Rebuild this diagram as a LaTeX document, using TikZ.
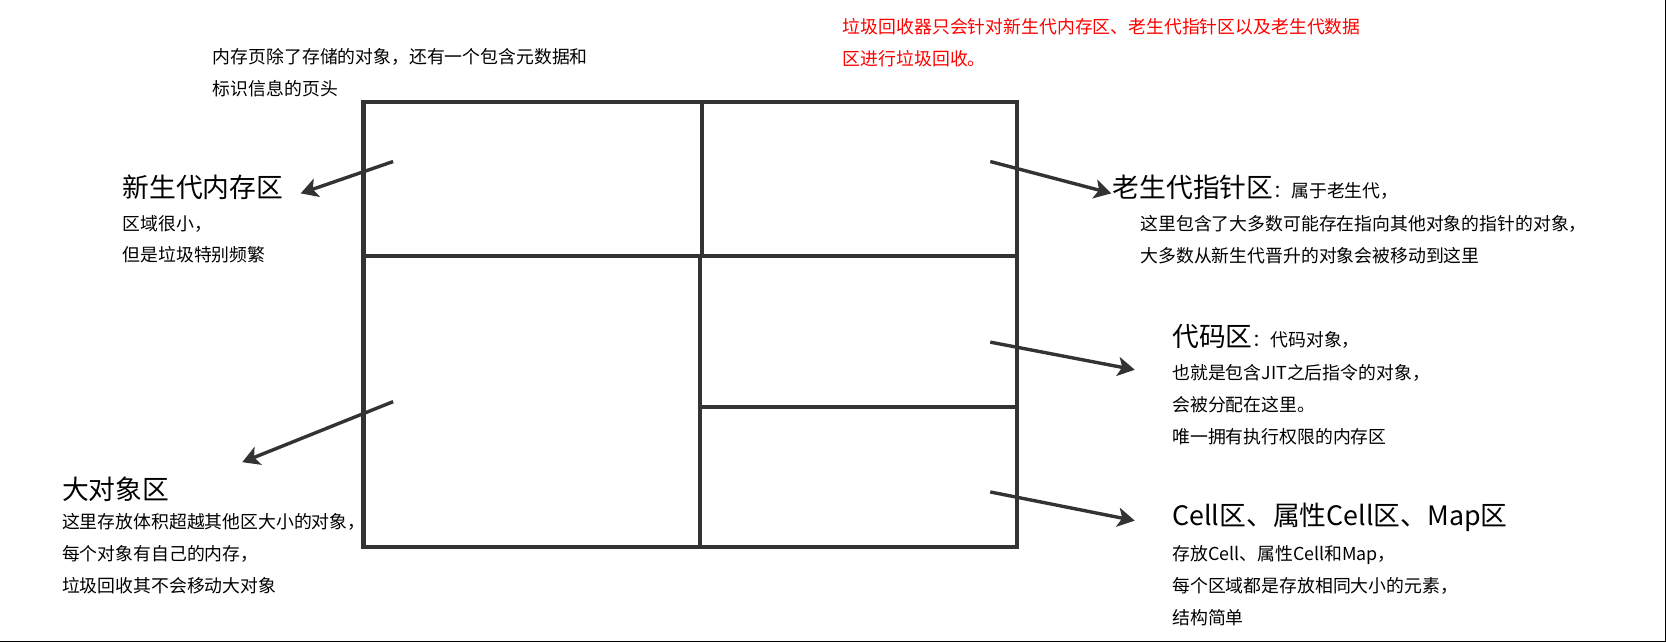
\documentclass[tikz,border=0pt]{standalone}
\usepackage{fontspec}
\setmainfont{Noto Sans CJK SC}
\usetikzlibrary{arrows.meta}

\begin{document}
\begin{tikzpicture}[ x = 0.5pt, y = -0.5pt
                     , >={Stealth[width=0.9em, length=0.8em, inset=0.2em]}
                     , wall/.style = { line width = 2pt, draw = black!80 }
                     , pointer/.style = { ->, line width = 1.6pt, draw = black!80 }
                     , title/.style = { anchor = west, inner sep = 0pt, font = \fontsize{12.6}{14}\selectfont }
                     , note/.style = { anchor = north west, inner sep = 0pt, align = left
                                     , font = \fontsize{8.4}{15}\selectfont }
                     ]

  \useasboundingbox (0,0) rectangle (1568,606);
  \draw (0,603.5) -- (1567,603.5) -- (1567,0);

  % memory page
  \draw[wall] (342,96) rectangle (957,515);
  \draw[wall] (661,96) -- (661,241);
  \draw[wall] (659,241) -- (659,515);
  \draw[wall] (342,241) -- (957,241);
  \draw[wall] (659,383) -- (957,383);

  % top notes
  \node (header) [note] at (200,45) {内存页除了存储的对象，还有一个包含元数据和\\标识信息的页头};
  \node (gc) [note, text = red] at (793,17) {垃圾回收器只会针对新生代内存区、老生代指针区以及老生代数据\\区进行垃圾回收。};

  % left side
  \node (young) [title] at (115,176) {新生代内存区};
  \node (youngtxt) [note] at (115,202) {区域很小，\\但是垃圾特别频繁};
  \node (large) [title] at (58,460) {大对象区};
  \node (largetxt) [note] at (58,483) {这里存放体积超越其他区大小的对象，\\每个对象有自己的内存，\\垃圾回收其不会移动大对象};

  % right side
  \node (old) [title] at (1047,176) {老生代指针区\fontsize{8.4}{14}\selectfont ：属于老生代，};
  \node (oldtxt) [note] at (1073,202) {这里包含了大多数可能存在指向其他对象的指针的对象，\\大多数从新生代晋升的对象会被移动到这里};
  \node (code) [title] at (1103,317) {代码区\fontsize{8.4}{14}\selectfont ：代码对象，};
  \node (codetxt) [note] at (1103,343) {也就是包含JIT之后指令的对象，\\会被分配在这里。\\唯一拥有执行权限的内存区};
  \node (cell) [title] at (1103,487) {Cell区、属性Cell区、Map区};
  \node (celltxt) [note] at (1103,513) {存放Cell、属性Cell和Map，\\每个区域都是存放相同大小的元素，\\结构简单};

  \coordinate (a1) at (370,152);
  \coordinate (a2) at (370,378);
  \coordinate (a3) at (932,152);
  \coordinate (a4) at (932,322);
  \coordinate (a5) at (932,463);
  \coordinate (youngtip) at (283,182);
  \coordinate (largetip) at (228,435);
  \coordinate (oldtip) at (1046,182);
  \coordinate (codetip) at (1068,348);
  \coordinate (celltip) at (1068,490);

  \draw[pointer] (a1) -- (youngtip);
  \draw[pointer] (a2) -- (largetip);
  \draw[pointer] (a3) -- (oldtip);
  \draw[pointer] (a4) -- (codetip);
  \draw[pointer] (a5) -- (celltip);

\end{tikzpicture}
\end{document}
